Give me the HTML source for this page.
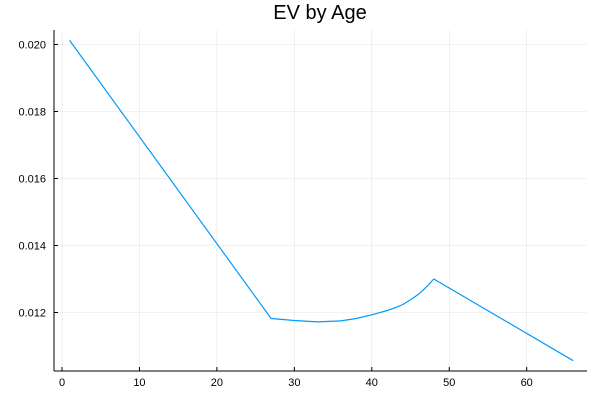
<!DOCTYPE html>
<html><head><meta charset="utf-8"><style>
html,body{margin:0;padding:0;background:#fff;}
svg{display:block;font-family:"Liberation Sans",sans-serif;}
</style></head><body>
<svg id="chart" width="600" height="400">
<text x="320" y="19" text-anchor="middle" font-size="20" fill="#000">EV by Age</text>
<g id="grid"></g>
<g id="axes"></g>
<g id="series"></g>
</svg>
<script>
const ages = [1, 27, 30, 33, 36, 38, 40, 42, 43, 44, 45, 46, 47, 48, 66];
const evValues = [0.02012, 0.01182, 0.01176, 0.01172, 0.01175, 0.01182, 0.01193, 0.01206, 0.01214, 0.01224, 0.01238, 0.01254, 0.01275, 0.01300, 0.01056];
const xTicks = [0, 10, 20, 30, 40, 50, 60];
const yTicks = [0.012, 0.014, 0.016, 0.018, 0.020];
const yTickLabels = ["0.012", "0.014", "0.016", "0.018", "0.020"];

const L=54, R=587, T=30, B=371;
function xs(v){return 62 + v*7.745;}
function ys(v){return 312.5 - (v-0.012)*33500;}
const NS="http://www.w3.org/2000/svg";
function mk(tag, attrs, parent){const e=document.createElementNS(NS,tag);for(const k in attrs)e.setAttribute(k,attrs[k]);parent.appendChild(e);return e;}
const grid=document.getElementById('grid'), axes=document.getElementById('axes'), series=document.getElementById('series');

xTicks.forEach(t=>{
  const x=xs(t);
  const g=mk('line',{x1:x,x2:x,y1:T,y2:B,stroke:'#000','stroke-opacity':0.1,'stroke-width':0.6},grid);
  
  
  const tk=mk('line',{x1:x,x2:x,y1:B,y2:B-4,stroke:'#000','stroke-width':1},axes);
  
  
  const lb=mk('text',{x:x,y:B+15,'text-anchor':'middle','font-size':11,fill:'#000'},axes);
  lb.textContent=t;
  
  
});
yTicks.forEach((t,i)=>{
  const y=ys(t);
  const g=mk('line',{x1:L,x2:R,y1:y,y2:y,stroke:'#000','stroke-opacity':0.1,'stroke-width':0.6},grid);
  
  
  const tk=mk('line',{x1:L,x2:L+4,y1:y,y2:y,stroke:'#000','stroke-width':1},axes);
  
  
  const lb=mk('text',{x:L-8,y:y+4,'text-anchor':'end','font-size':11,fill:'#000'},axes);
  lb.textContent=yTickLabels[i];
  
  
});
const xa=mk('line',{x1:L,x2:R,y1:B,y2:B,stroke:'#000','stroke-width':1},axes);


const ya=mk('line',{x1:L,x2:L,y1:T,y2:B,stroke:'#000','stroke-width':1},axes);



const pts=ages.map((a,i)=>xs(a).toFixed(1)+','+ys(evValues[i]).toFixed(1)).join(' ');
const pl=mk('polyline',{points:pts,fill:'none',stroke:'#009af9','stroke-width':1.2,'stroke-linejoin':'round'},series);


</script>
</body></html>
